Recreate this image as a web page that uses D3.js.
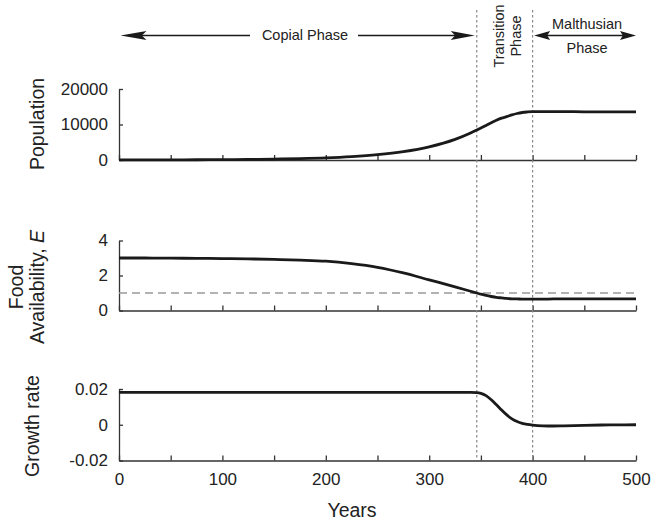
<!DOCTYPE html>
<html>
<head>
<meta charset="utf-8">
<script src="https://cdn.jsdelivr.net/npm/d3@7"></script>
<style>
  html, body { margin: 0; padding: 0; background: #fff; }
  svg { display: block; }
  text { font-family: "Liberation Sans", Arial, Helvetica, sans-serif; fill: #222; }
</style>
</head>
<body>
<svg id="chart" width="655" height="524"></svg>
<script>
// ---------------- DATA ----------------
const years = [0,25,50,75,100,125,150,175,200,225,250,275,300,325,340,346,350,355,360,365,370,375,380,385,390,395,400,410,420,430,450,475,500];
const population = [20,30,50,75,110,170,260,400,610,960,1500,2350,3700,5800,7600,8450,9000,9750,10500,11200,11800,12200,12700,13100,13380,13530,13620,13650,13640,13620,13580,13550,13550];
const foodAvailability = [3.00,3.00,2.99,2.98,2.97,2.95,2.92,2.88,2.82,2.68,2.47,2.15,1.75,1.35,1.10,1.00,0.93,0.86,0.80,0.75,0.72,0.69,0.67,0.66,0.65,0.65,0.65,0.65,0.66,0.66,0.67,0.67,0.67];
const growthRate = [0.0181,0.0181,0.0181,0.0181,0.0181,0.0181,0.0181,0.0181,0.0181,0.0181,0.0181,0.0181,0.0181,0.0181,0.0181,0.0180,0.0176,0.0163,0.0140,0.0112,0.0082,0.0055,0.0033,0.0018,0.0008,0.0002,-0.0002,-0.0006,-0.0007,-0.0006,-0.0003,-0.0001,0.0000];

const xTicks = [0,50,100,150,200,250,300,350,400,450,500];
const xTickLabels = ["0","","100","","200","","300","","400","","500"];
const popTicks = [0,10000,20000];
const foodTicks = [0,2,4];
const growthTicks = [-0.02,0,0.02];
const growthTickLabels = ["-0.02","0","0.02"];
const phaseBounds = [346,400];
const thresholdE = 1;

// ---------------- LAYOUT ----------------
const svg = d3.select("#chart");
const x = d3.scaleLinear().domain([0,500]).range([119,636]);
const yPop = d3.scaleLinear().domain([0,20000]).range([160,89]);
const yFood = d3.scaleLinear().domain([0,4]).range([310.5,240.5]);
const yGrowth = d3.scaleLinear().domain([-0.02,0.02]).range([460.5,389]);

const axisColor = "#333";
const fontTick = 17;
const fontTitle = 19.5;

function panel(y, ticks, fmt, isBottom) {
  const gx = svg.append("g").attr("transform", `translate(0,${y.range()[0]})`)
    .call(d3.axisBottom(x).tickValues(xTicks).tickSizeInner(-5).tickSizeOuter(0)
      .tickPadding(12.5)
      .tickFormat(isBottom ? (d,i) => xTickLabels[i] : () => ""));
  gx.selectAll("path,line").attr("stroke", axisColor).attr("stroke-width", 1.3);
  gx.selectAll("text").attr("font-size", fontTick).style("font-family", "Liberation Sans, Arial, sans-serif").attr("fill", "#222");
  const gy = svg.append("g").attr("transform", `translate(${x(0)},0)`)
    .call(d3.axisLeft(y).tickValues(ticks).tickSizeInner(-4).tickSizeOuter(0)
      .tickPadding(11).tickFormat(fmt));
  gy.selectAll("path,line").attr("stroke", axisColor).attr("stroke-width", 1.3);
  gy.selectAll("text").attr("font-size", fontTick).style("font-family", "Liberation Sans, Arial, sans-serif").attr("fill", "#222");
}

panel(yPop, popTicks, d => String(d), false);
panel(yFood, foodTicks, d => String(d), false);
panel(yGrowth, growthTicks, (d,i) => growthTickLabels[i], true);

// threshold dashed line E = 1
svg.append("line")
  .attr("x1", x(0)).attr("x2", x(500))
  .attr("y1", yFood(thresholdE)).attr("y2", yFood(thresholdE))
  .attr("stroke", "#999").attr("stroke-width", 1.5).attr("stroke-dasharray", "8,5");

// phase boundary dotted lines
svg.selectAll("line.phase").data(phaseBounds).enter().append("line")
  .attr("class", "phase")
  .attr("x1", d => x(d)).attr("x2", d => x(d))
  .attr("y1", 10).attr("y2", 458)
  .attr("stroke", "#888").attr("stroke-width", 1.2).attr("stroke-dasharray", "2.5,2.5");

// series lines
function series(vals, y) {
  const line = d3.line().x((d,i) => x(years[i])).y(d => y(d)).curve(d3.curveMonotoneX);
  svg.append("path").datum(vals).attr("d", line)
    .attr("fill", "none").attr("stroke", "#1a1a1a").attr("stroke-width", 2.8)
    .attr("stroke-linejoin", "round").attr("stroke-linecap", "butt");
}
series(population, yPop);
series(foodAvailability, yFood);
series(growthRate, yGrowth);

// axis titles
function vtitle(lines, cx, cy) {
  const t = svg.append("text").attr("transform", `translate(${cx},${cy}) rotate(-90)`)
    .attr("text-anchor", "middle").attr("font-size", fontTitle);
  lines.forEach((ln, i) => {
    const ts = t.append("tspan").attr("x", 0).attr("y", ln.dy);
    ln.parts.forEach(p => ts.append("tspan").text(p.t).attr("font-style", p.it ? "italic" : null));
  });
}
vtitle([{dy:0, parts:[{t:"Population"}]}], 44, 124);
vtitle([{dy:0, parts:[{t:"Food"}]}, {dy:21, parts:[{t:"Availability, "},{t:"E", it:true}]}], 23, 287);
vtitle([{dy:0, parts:[{t:"Growth rate"}]}], 39, 426);

svg.append("text").attr("x", 352).attr("y", 517).attr("text-anchor", "middle")
  .attr("font-size", fontTitle).text("Years");

// ---------------- PHASE ANNOTATIONS ----------------
const arrowY = 35.5;
function arrowHead(tipX, dir, len, hw) {
  const b = tipX - dir * len;
  svg.append("path")
    .attr("d", `M${tipX},${arrowY} L${b},${arrowY - hw} L${b + dir*len*0.18},${arrowY} L${b},${arrowY + hw} Z`)
    .attr("fill", "#1a1a1a");
}
function hline(x1, x2) {
  svg.append("line").attr("x1", x1).attr("x2", x2).attr("y1", arrowY).attr("y2", arrowY)
    .attr("stroke", "#1a1a1a").attr("stroke-width", 1.3);
}
// Copial
const copL = x(0) + 1.5, copR = x(phaseBounds[0]) - 2;
const copCx = 305;
hline(copL + 10, copCx - 55);
hline(copCx + 53, copR - 10);
arrowHead(copL, -1, 26, 4.5);
arrowHead(copR, 1, 24, 4.5);
svg.append("text").attr("x", copCx).attr("y", 40).attr("text-anchor", "middle")
  .attr("font-size", 14.5).text("Copial Phase");

// Malthusian
const malL = x(phaseBounds[1]) + 1.5, malR = x(500);
hline(malL + 5, malR - 5);
arrowHead(malL, -1, 16, 4.5);
arrowHead(malR, 1, 16, 4.5);
const malCx = (malL + malR) / 2 + 2;
svg.append("text").attr("x", malCx).attr("y", 28.5).attr("text-anchor", "middle")
  .attr("font-size", 14.5).text("Malthusian");
svg.append("text").attr("x", malCx).attr("y", 52.5).attr("text-anchor", "middle")
  .attr("font-size", 14.5).text("Phase");

// Transition
const trCx = (x(phaseBounds[0]) + x(phaseBounds[1])) / 2;
svg.append("text").attr("transform", `translate(${trCx - 1},36) rotate(-90)`)
  .attr("text-anchor", "middle").attr("font-size", 14.5).text("Transition");
svg.append("text").attr("transform", `translate(${trCx + 16.5},36) rotate(-90)`)
  .attr("text-anchor", "middle").attr("font-size", 14.5).text("Phase");
</script>
</body>
</html>
